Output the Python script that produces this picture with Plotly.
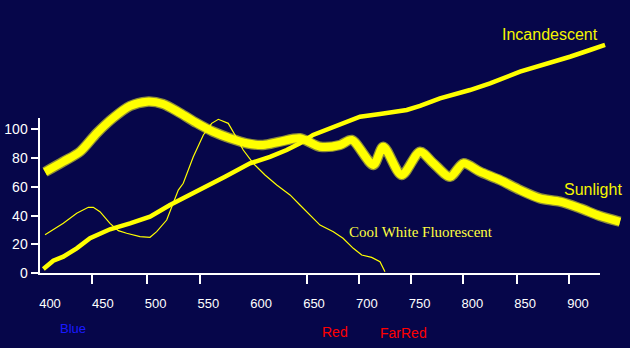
import plotly.graph_objects as go

# ---- data (wavelength in nm, relative energy) ----
wl_sun = [395.3, 412.6, 428.4, 444.2, 459.7, 475.8, 491.6, 507.0, 523.1, 538.9, 554.4, 570.5,
          586.3, 601.7, 617.8, 636.7, 655.7, 674.6, 685.7, 706.2, 715.6, 733.0, 750.4, 762.7,
          778.8, 791.4, 807.2, 826.1, 845.1, 864.0, 883.0, 901.9, 920.8, 939.8]
sunlight = [70.4, 77.6, 84.5, 97.4, 108.0, 116.4, 119.4, 117.8, 111.5, 104.5, 98.5, 93.9,
            90.4, 89.2, 91.5, 93.9, 88.0, 89.2, 92.7, 75.3, 88.0, 68.3, 84.5, 76.7,
            67.1, 76.4, 70.6, 64.8, 57.8, 52.0, 49.7, 45.1, 39.7, 35.7]

wl_inc = [393.7, 403.1, 412.6, 425.3, 437.9, 456.8, 475.8, 494.7, 513.6, 542.0, 565.7, 589.4,
          608.3, 624.1, 636.7, 649.1, 665.2, 681.0, 693.6, 712.5, 737.8, 750.4, 769.3, 797.7,
          816.7, 845.1, 873.5, 892.4, 911.4, 925.6]
incandescent = [2.8, 8.6, 11.4, 17.2, 24.2, 30.5, 34.6, 39.2, 47.4, 57.8, 67.1, 76.4,
                81.0, 85.7, 90.4, 96.2, 100.8, 105.4, 108.9, 110.8, 113.6, 116.4, 121.7, 127.5,
                132.2, 140.3, 146.1, 150.7, 155.4, 158.9]

wl_fl = [395.3, 400.0, 412.6, 425.3, 436.3, 441.0, 447.3, 456.8, 464.7, 472.6, 485.2, 494.7,
         501.0, 510.5, 516.8, 521.5, 526.2, 535.7, 545.2, 553.1, 559.4, 568.8, 575.2, 583.0,
         592.5, 603.6, 614.7, 627.3, 636.7, 646.2, 655.7, 668.3, 677.5, 687.2, 695.2, 704.6,
         712.5, 717.2]
fluorescent = [26.7, 28.8, 34.6, 41.6, 45.8, 45.8, 42.7, 34.6, 29.5, 27.7, 25.3, 24.9,
               28.8, 36.9, 48.6, 57.8, 62.5, 81.0, 96.2, 104.3, 107.1, 104.3, 96.2, 85.7,
               76.4, 68.3, 61.3, 54.4, 47.4, 40.4, 33.4, 28.8, 24.2, 17.2, 12.5, 10.9,
               7.9, 0.9]

x_tick_labels = [400, 450, 500, 550, 600, 650, 700, 750, 800, 850, 900]
x_tick_marks = [439.5, 491.4, 542.5, 643.1, 692.3, 741.5, 791.4, 841.9, 891.8]
y_ticks = [0, 20, 40, 60, 80, 100]

BG = "#06064a"
YEL = "#ffff00"

fig = go.Figure()

# Sunlight (thick, soft-edged)
fig.add_trace(go.Scatter(x=wl_sun, y=sunlight, mode="lines",
                         line=dict(color="rgba(255,255,40,0.55)", width=10.5, shape="spline", smoothing=0.8),
                         hoverinfo="skip", showlegend=False))
fig.add_trace(go.Scatter(x=wl_sun, y=sunlight, mode="lines",
                         line=dict(color=YEL, width=8, shape="spline", smoothing=0.8),
                         hoverinfo="skip", showlegend=False))
# Incandescent
fig.add_trace(go.Scatter(x=wl_inc, y=incandescent, mode="lines",
                         line=dict(color=YEL, width=4.5),
                         hoverinfo="skip", showlegend=False))
# Cool White Fluorescent
fig.add_trace(go.Scatter(x=wl_fl, y=fluorescent, mode="lines",
                         line=dict(color=YEL, width=1.2),
                         hoverinfo="skip", showlegend=False))

# empty traces to attach the visible axes
fig.add_trace(go.Scatter(x=[], y=[], xaxis="x2", yaxis="y2", showlegend=False))
fig.add_trace(go.Scatter(x=[], y=[], xaxis="x3", yaxis="y2", showlegend=False))

X_FULL = [352.65, 949.24]
Y_FULL = [-52.26, 190.24]
X_AX = [390.06, 920.83]
Y_AX = [0, 108.01]

xfont = dict(family="Liberation Sans, Arial, sans-serif", size=13, color="white")
yfont = dict(family="Liberation Sans, Arial, sans-serif", size=14, color="white")

fig.update_layout(
    width=630, height=348,
    margin=dict(l=0, r=0, t=0, b=0, autoexpand=False),
    paper_bgcolor=BG, plot_bgcolor="rgba(0,0,0,0)",
    showlegend=False,
    xaxis=dict(domain=[0, 1], range=X_FULL, visible=False, fixedrange=True, automargin=False),
    yaxis=dict(domain=[0, 1], range=Y_FULL, visible=False, fixedrange=True, automargin=False),
    xaxis2=dict(domain=[39.5 / 630, 600 / 630], range=X_AX, anchor="y2",
                showline=True, linecolor="white", linewidth=2,
                ticks="outside", tickmode="array", tickvals=x_tick_marks,
                ticklen=9, tickwidth=1.5, tickcolor="white", automargin=False,
                showticklabels=False, showgrid=False, zeroline=False, fixedrange=True),
    xaxis3=dict(overlaying="x2", anchor="y2", range=X_AX,
                tickmode="array", tickvals=x_tick_labels,
                ticktext=[str(v) for v in x_tick_labels],
                ticks="outside", ticklen=18, tickcolor="rgba(0,0,0,0)", automargin=False,
                tickfont=xfont, showline=False, showgrid=False, zeroline=False,
                fixedrange=True),
    yaxis2=dict(domain=[(348 - 273) / 348, (348 - 118) / 348], range=Y_AX, anchor="x2",
                showline=True, linecolor="white", linewidth=2,
                ticks="outside", tickmode="array", tickvals=y_ticks,
                ticklen=7, tickwidth=1.5, tickcolor="white", automargin=False,
                tickfont=yfont, showgrid=False, zeroline=False, fixedrange=True),
)

ann_font = "Liberation Sans, Arial, sans-serif"
fig.add_annotation(x=873.5, y=165.9, xref="x", yref="y", text="Incandescent",
                   showarrow=False, font=dict(family=ann_font, size=16, color="#f5f500"))
fig.add_annotation(x=913.8, y=58.3, xref="x", yref="y", text="Sunlight",
                   showarrow=False, font=dict(family=ann_font, size=16, color="#f5f500"))
fig.add_annotation(x=751.3, y=28.6, xref="x", yref="y", text="Cool White Fluorescent",
                   showarrow=False, font=dict(family="Liberation Serif, Times New Roman, serif",
                                              size=15, color="#ffff40"))
fig.add_annotation(x=421.8, y=-39.0, xref="x", yref="y", text="Blue",
                   showarrow=False, font=dict(family=ann_font, size=13, color="#1a1aff"))
fig.add_annotation(x=669.9, y=-41.1, xref="x", yref="y", text="Red",
                   showarrow=False, font=dict(family=ann_font, size=14, color="#ff0000"))
fig.add_annotation(x=734.8, y=-41.8, xref="x", yref="y", text="FarRed",
                   showarrow=False, font=dict(family=ann_font, size=14, color="#ff0000"))

fig.write_html("out.html")
